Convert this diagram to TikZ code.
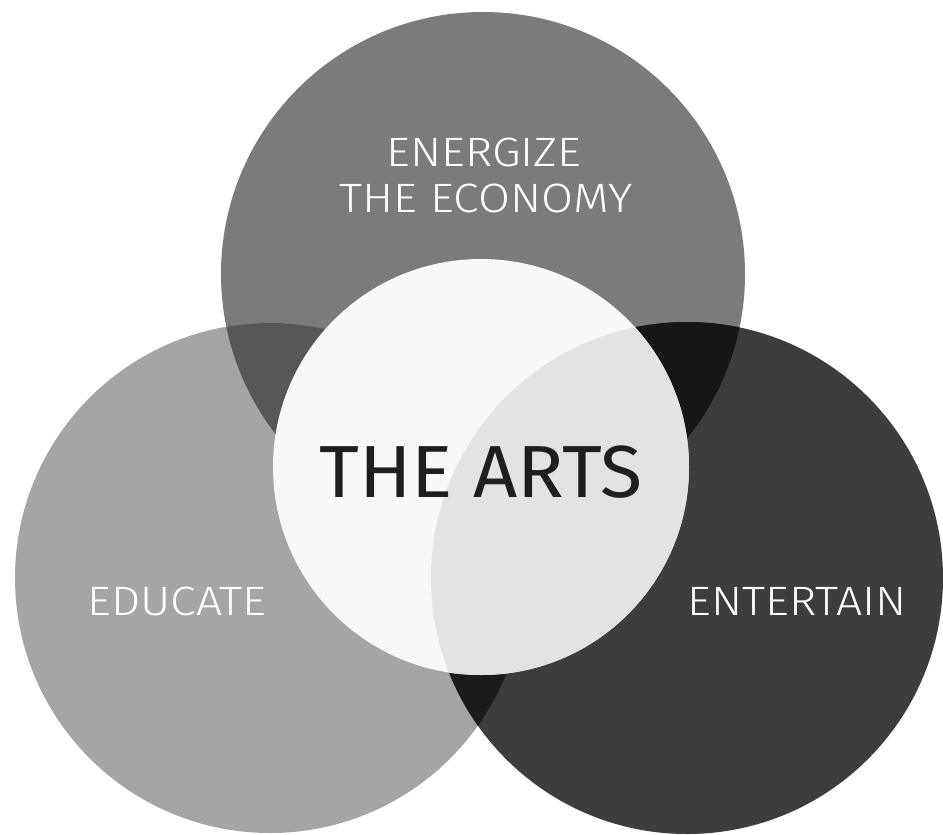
\documentclass[tikz,border=0pt]{standalone}
\usepackage{fontspec}
\setmainfont{Fira Sans}
\newfontfamily\lightfont{Fira Sans Light}[FakeStretch=1.13]
\newfontfamily\artsfont{Fira Sans}[FakeStretch=1.045]
\definecolor{topc}{HTML}{7B7B7B}
\definecolor{leftc}{HTML}{A5A5A5}
\definecolor{rightc}{HTML}{3D3D3D}
\definecolor{tlc}{HTML}{575757}
\definecolor{trc}{HTML}{161616}
\definecolor{lrc}{HTML}{1B1B1B}
\definecolor{tlrc}{HTML}{0E0E0E}
\definecolor{midc}{HTML}{F8F8F8}
\definecolor{midrc}{HTML}{E3E3E3}
\definecolor{artsc}{HTML}{1E1E1E}
\tikzset{
  label/.style={text=white, inner sep=0pt, font=\lightfont\fontsize{35}{35}\selectfont},
  arts/.style={text=artsc, inner sep=0pt, font=\artsfont\fontsize{63}{63}\selectfont}
}
\begin{document}
\begin{tikzpicture}[x=0.03cm,y=-0.03cm]
\useasboundingbox[fill=white] (0,0) rectangle (943,835);
\coordinate (ctop) at (483,274);
\coordinate (cleft) at (270,578);
\coordinate (cright) at (687,578);
\coordinate (cmid) at (481,467);
% base circles
\fill[topc] (ctop) circle[radius=262];
\fill[leftc] (cleft) circle[radius=255];
\fill[rightc] (cright) circle[radius=256];
% pairwise overlaps
\begin{scope}
  \clip (ctop) circle[radius=262];
  \fill[tlc] (cleft) circle[radius=255];
  \fill[trc] (cright) circle[radius=256];
\end{scope}
\begin{scope}
  \clip (cleft) circle[radius=255];
  \fill[lrc] (cright) circle[radius=256];
  \clip (ctop) circle[radius=262];
  \fill[tlrc] (cright) circle[radius=256];
\end{scope}
% central circle
\fill[midc] (cmid) circle[radius=208];
\begin{scope}
  \clip (cmid) circle[radius=208];
  \fill[midrc] (cright) circle[radius=256];
\end{scope}
% labels
\node[label] (energize) at (484,152) {ENERGIZE};
\node[label] (economy) at (486,198) {THE ECONOMY};
\node[label] (educate) at (177,601) {EDUCATE};
\node[label] (entertain) at (797,601) {ENTERTAIN};
\node[arts] (thearts) at (481,472) {THE ARTS};
\end{tikzpicture}
\end{document}
